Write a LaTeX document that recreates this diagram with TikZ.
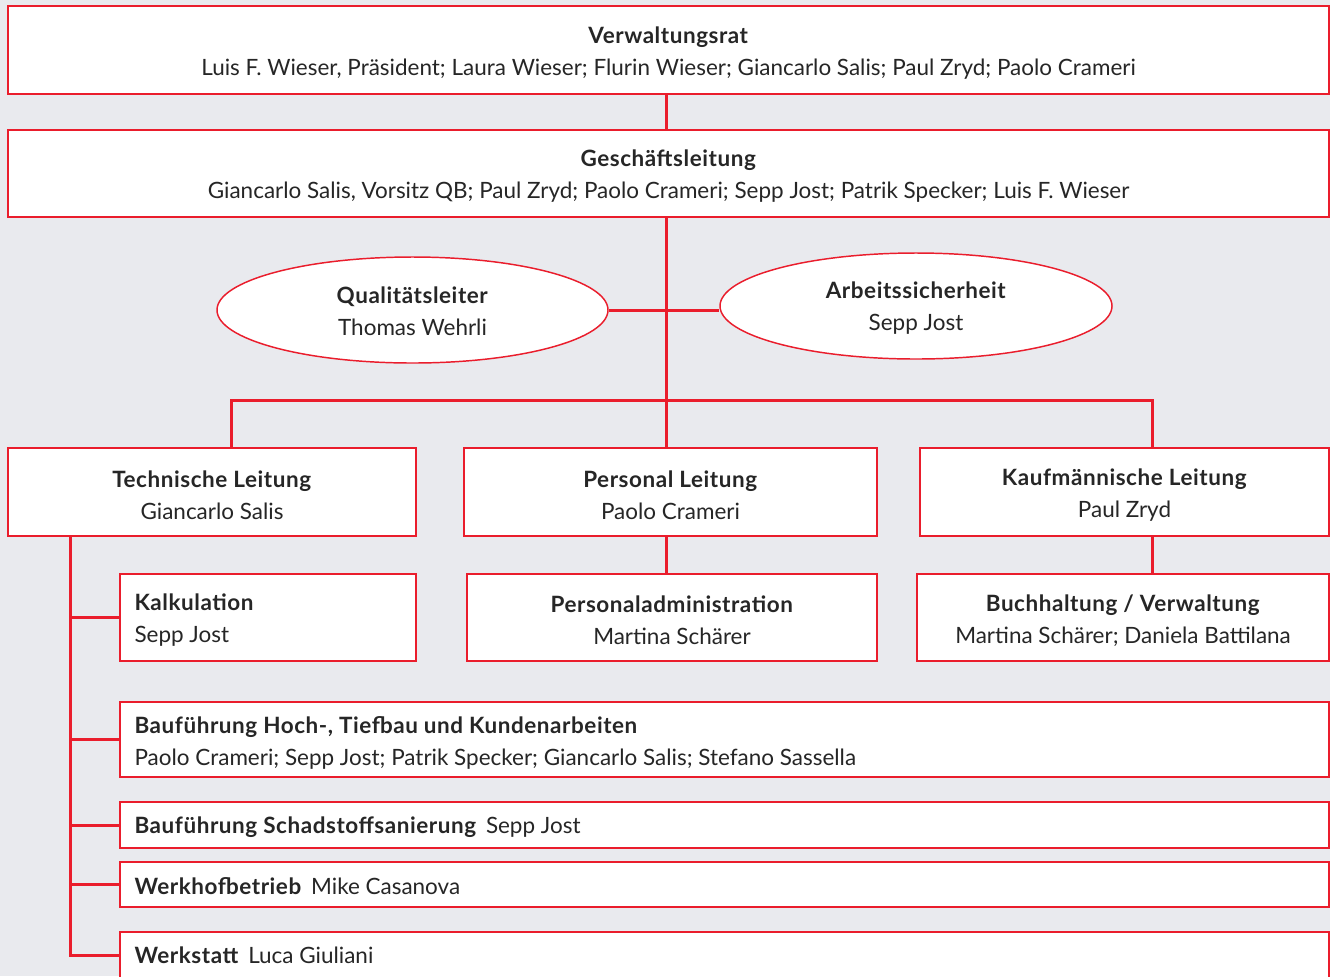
\documentclass[tikz,border=0pt]{standalone}
\usepackage{fontspec}
\setmainfont{Lato}[BoldFeatures={LetterSpace=2.5}]
\usetikzlibrary{shapes.geometric,backgrounds}
\definecolor{bg}{HTML}{E9EAEE}
\definecolor{orgred}{HTML}{EA1D2C}
\definecolor{txt}{HTML}{262626}
\tikzset{
  orgbox/.style={draw=orgred, fill=white, line width=1.1pt, rectangle, inner sep=0pt},
  orgell/.style={draw=orgred, fill=white, line width=1.1pt, ellipse, inner sep=0pt, minimum height=79.5pt},
  ctext/.style={align=center, inner sep=0pt, text=txt, font=\fontsize{16.85}{24}\selectfont},
  ltext/.style={align=left, anchor=west, inner sep=0pt, text=txt, font=\fontsize{16.85}{24}\selectfont},
  conn/.style={draw=orgred, line width=2.25pt}
}
\begin{document}
\begin{tikzpicture}[x=0.75pt,y=-0.75pt]
\useasboundingbox (0,0) rectangle (1330,976);
\begin{scope}[on background layer]
\fill[bg] (0,0) rectangle (1330,976);
\end{scope}

% boxes
\node[orgbox, minimum width=990.75pt, minimum height=66pt] (vr) at (668.5,50) {};
\node[orgbox, minimum width=990.75pt, minimum height=65.25pt] (gl) at (668.5,173.5) {};
\node[orgell, minimum width=293.25pt] (ql) at (412.5,310) {};
\node[orgell, minimum width=294pt] (as) at (916,306) {};
\node[orgbox, minimum width=306pt, minimum height=66pt] (tl) at (212,492) {};
\node[orgbox, minimum width=309.75pt, minimum height=66pt] (pl) at (670.5,492) {};
\node[orgbox, minimum width=306.75pt, minimum height=66pt] (kl) at (1124.5,492) {};
\node[orgbox, minimum width=222pt, minimum height=65.25pt] (ka) at (268,617.5) {};
\node[orgbox, minimum width=307.5pt, minimum height=65.25pt] (pa) at (672,617.5) {};
\node[orgbox, minimum width=309pt, minimum height=65.25pt] (bh) at (1123,617.5) {};
\node[orgbox, minimum width=906.75pt, minimum height=56.25pt] (bt) at (724.5,739.5) {};
\node[orgbox, minimum width=906.75pt, minimum height=34.5pt] (bs) at (724.5,825) {};
\node[orgbox, minimum width=906.75pt, minimum height=33.75pt] (wh) at (724.5,884.5) {};
\node[orgbox, minimum width=906.75pt, minimum height=34.5pt] (ws) at (724.5,955) {};

% texts
\node[ctext, yshift=-2.25pt] (vr-t) at (vr.center)
  {\textbf{Verwaltungsrat}\\Luis F. Wieser, Präsident; Laura Wieser; Flurin Wieser; Giancarlo Salis; Paul Zryd; Paolo Crameri};
\node[ctext, yshift=-2.25pt] (gl-t) at (gl.center)
  {\textbf{Geschäftsleitung}\\Giancarlo Salis, Vorsitz QB; Paul Zryd; Paolo Crameri; Sepp Jost; Patrik Specker; Luis F. Wieser};
\node[ctext, yshift=-0.75pt] (ql-t) at (ql.center) {\textbf{Qualitätsleiter}\\Thomas Wehrli};
\node[ctext, yshift=-1.5pt] (as-t) at (as.center) {\textbf{Arbeitssicherheit}\\Sepp Jost};
\node[ctext, yshift=-2.25pt] (tl-t) at (tl.center) {\textbf{Technische Leitung}\\Giancarlo Salis};
\node[ctext, yshift=-2.25pt] (pl-t) at (pl.center) {\textbf{Personal Leitung}\\Paolo Crameri};
\node[ctext, yshift=-2.25pt] (kl-t) at (kl.center) {\textbf{Kaufmännische Leitung}\\Paul Zryd};
\node[ltext, xshift=11.25pt, yshift=-2.25pt] (ka-t) at (ka.west) {\textbf{Kalkulation}\\Sepp Jost};
\node[ctext, yshift=-2.25pt] (pa-t) at (pa.center) {\textbf{Personaladministration}\\Martina Schärer};
\node[ctext, yshift=-2.25pt] (bh-t) at (bh.center) {\textbf{Buchhaltung / Verwaltung}\\Martina Schärer; Daniela Battilana};
\node[ltext, xshift=11.25pt, yshift=-2.25pt] (bt-t) at (bt.west)
  {\textbf{Bauführung Hoch-, Tiefbau und Kundenarbeiten}\\Paolo Crameri; Sepp Jost; Patrik Specker; Giancarlo Salis; Stefano Sassella};
\node[ltext, xshift=11.25pt, yshift=-1.5pt] (bs-t) at (bs.west) {\textbf{Bauführung Schadstoffsanierung}\hspace{7pt}Sepp Jost};
\node[ltext, xshift=11.25pt, yshift=-1.2pt] (wh-t) at (wh.west) {\textbf{Werkhofbetrieb}\hspace{7pt}Mike Casanova};
\node[ltext, xshift=11.25pt, yshift=-0.3pt] (ws-t) at (ws.west) {\textbf{Werkstatt}\hspace{7pt}Luca Giuliani};

\coordinate (j1) at (231,400);
\coordinate (j2) at (1152,400);
\coordinate (mid) at (666,400);
\coordinate (sp) at (70,536);

\begin{scope}[on background layer]
\draw[conn] (vr.south -| mid) -- (gl.north -| mid);
\draw[conn] (gl.south -| mid) -- (pl.north -| mid);
\draw[conn] (ql.east) -- (ql.east -| as.west);
\draw[conn] (j1 |- tl.north) -- (j1) -- (j2) -- (j2 |- kl.north);
\draw[conn] (pl.south -| mid) -- (pa.north -| mid);
\draw[conn] (kl.south -| j2) -- (bh.north -| j2);
\draw[conn] (sp) -- (sp |- ws.west) -- (ws.west);
\draw[conn] (sp |- ka.west) -- (ka.west);
\draw[conn] (sp |- bt.west) -- (bt.west);
\draw[conn] (sp |- bs.west) -- (bs.west);
\draw[conn] (sp |- wh.west) -- (wh.west);
\end{scope}
\end{tikzpicture}
\end{document}
